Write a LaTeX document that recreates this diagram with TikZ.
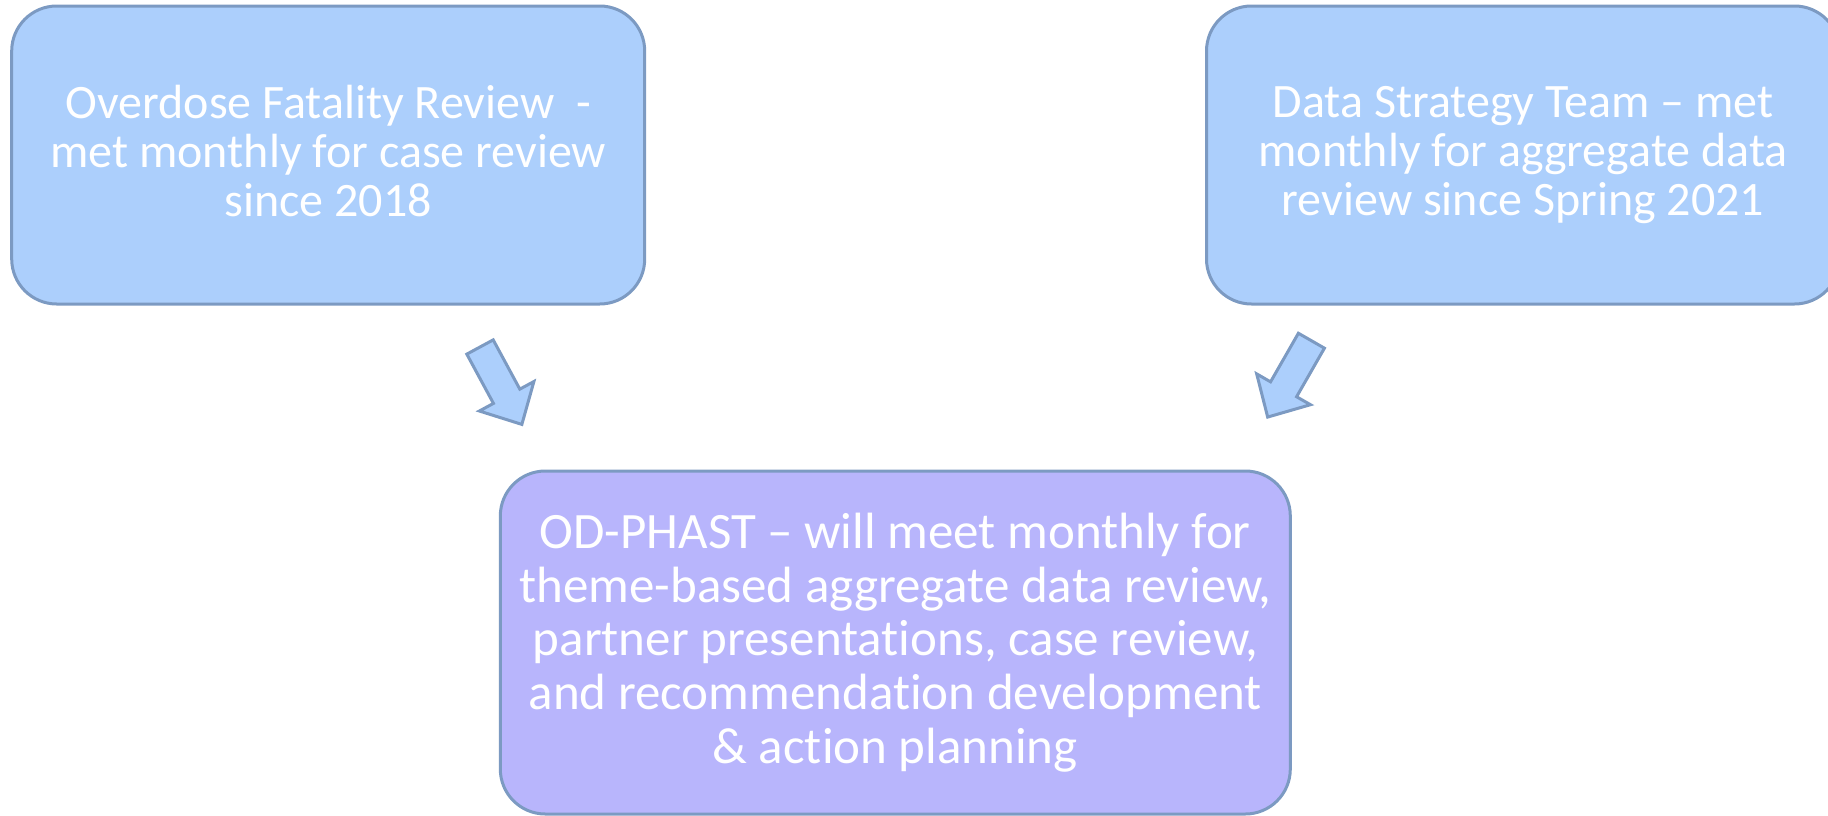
\documentclass[tikz,border=0pt]{standalone}
\usepackage{fontspec}
\setmainfont{Carlito}[Ligatures={NoCommon}]
\usetikzlibrary{calc}
\definecolor{boxblue}{HTML}{ACCFFC}
\definecolor{boxlilac}{HTML}{B8B5FC}
\definecolor{edgeslate}{HTML}{7C9AC2}

\begin{document}
\begin{tikzpicture}[x=1pt, y=-1pt,
    teambox/.style={draw=edgeslate, line width=3pt, rounded corners=45pt,
        text=white, align=center, inner sep=0pt}]

\useasboundingbox (0,0) rectangle (1828,815);

% --- MACRO: DRAW BLOCK ARROW ---
% #1: tail coordinate (centre of the shaft end)
% #2: direction angle
\newcommand{\drawBlockArrow}[2]{
    \begin{scope}[shift={(#1)}, rotate=#2]
        \filldraw[fill=boxblue, draw=edgeslate, line width=3pt, line join=miter]
            (0,-15) -- (56,-15) -- (56,-31) -- (88,0) -- (56,31) -- (56,15)
            -- (0,15) -- cycle;
    \end{scope}
}

% --- BOXES ---
\node[teambox, fill=boxblue, minimum width=633pt, minimum height=298pt,
      font=\fontsize{48}{49}\selectfont] (ofr) at (328.2,155)
    {Overdose Fatality Review\ \ -\\met monthly for case review\\since 2018\vphantom{g}};

\node[teambox, fill=boxblue, minimum width=633pt, minimum height=298pt,
      font=\fontsize{48}{49}\selectfont] (dst) at (1523,155)
    {Data Strategy Team -- met\\monthly for aggregate data\\review since Spring 2021};

\node[teambox, fill=boxlilac, minimum width=790pt, minimum height=343pt,
      font=\fontsize{51}{53.6}\selectfont] (phast) at (895.3,642.5)
    {OD-PHAST -- will meet monthly for\\theme-based aggregate data review,\\
     partner presentations, case review,\\and recommendation development\\
     \& action planning};

% --- ARROWS ---
\coordinate (tailL) at ($(ofr.south)+(151.8,41.5)$);
\coordinate (tailR) at ($(dst.south)+(-211.6,35.2)$);

\drawBlockArrow{tailL}{-61.6}
\drawBlockArrow{tailR}{-119.8}

\end{tikzpicture}
\end{document}
